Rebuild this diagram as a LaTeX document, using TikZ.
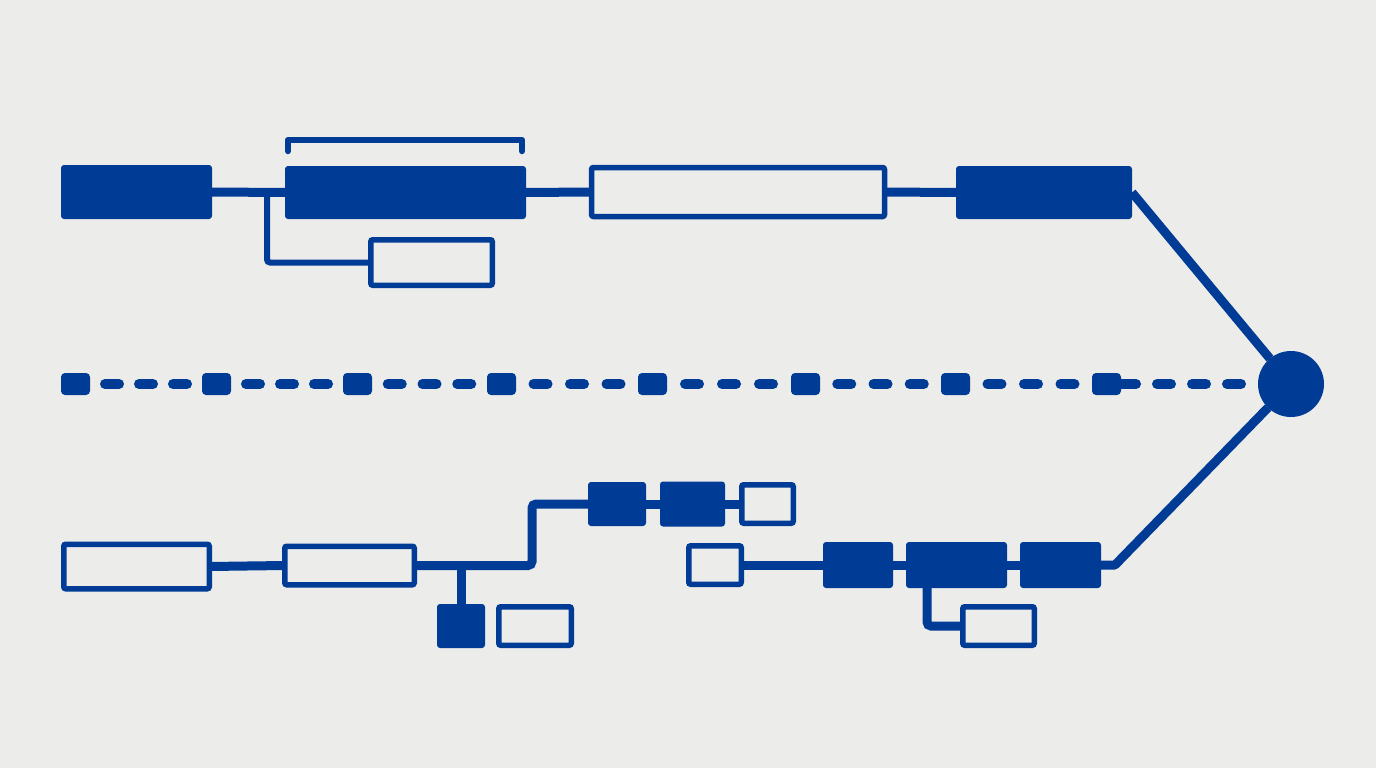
\documentclass[tikz,border=0pt]{standalone}
\usetikzlibrary{calc}
\definecolor{blu}{RGB}{0,60,150}
\definecolor{bg}{RGB}{236,236,234}
\begin{document}
\begin{tikzpicture}[x=1pt,y=-1pt,
  fb/.style={fill=blu, rounded corners=3pt, inner sep=0pt, outer sep=0pt},
  ob/.style={draw=blu, line width=5.5pt, rounded corners=2pt, inner sep=0pt, outer sep=0pt},
  sq/.style={fill=blu, rounded corners=4pt, inner sep=0pt, outer sep=0pt, minimum width=29pt, minimum height=22pt},
  hubst/.style={circle, fill=blu, inner sep=0pt, outer sep=0pt, minimum size=66pt},
  conn/.style={draw=blu, line width=9pt},
  thin/.style={draw=blu, line width=6pt},
  dsh/.style={draw=blu, line width=10pt, line cap=round, dash pattern=on 14pt off #1pt, dash phase=19pt}
]
\fill[bg] (0,0) rectangle (1376,768);
\useasboundingbox (0,0) rectangle (1376,768);

% ---------- top row ----------
\node[fb, minimum width=151pt, minimum height=54pt] (A) at (136.5,192) {};
\node[fb, minimum width=241pt, minimum height=53pt] (B) at (405.5,192.5) {};
\node[ob, minimum width=121.5pt, minimum height=45.5pt] (C) at (431.5,262.5) {};
\node[ob, minimum width=293pt, minimum height=49pt] (D) at (738,192) {};
\node[fb, minimum width=176pt, minimum height=53pt] (E) at (1044,192.5) {};
\node[hubst] (hub) at (1291,384) {};

\draw[blu, line width=6.5pt, line cap=round, line join=round] (288,151) -- (288,140) -- (522,140) -- (522,151);

\draw[conn] (A.east) -- (B.west);
\coordinate (j1) at (267,192.5);
\draw[thin, rounded corners=3pt] (j1) |- (C.west);
\draw[conn] (B.east) -- (D.west);
\draw[conn] (D.east) -- (E.west);
\draw[conn] (E.east) -- (hub);

% ---------- dashed middle row ----------
\node[sq] (s1) at (75.5,384) {};
\node[sq] (s2) at (216.5,384) {};
\node[sq] (s3) at (357.5,384) {};
\node[sq] (s4) at (501.5,384) {};
\node[sq] (s5) at (652.5,384) {};
\node[sq] (s6) at (805.5,384) {};
\node[sq] (s7) at (955.5,384) {};
\node[sq] (s8) at (1106.5,384) {};
\draw[dsh=20] (s1.east) -- (s2.west);
\draw[dsh=20] (s2.east) -- (s3.west);
\draw[dsh=20.75] (s3.east) -- (s4.west);
\draw[dsh=22.5] (s4.east) -- (s5.west);
\draw[dsh=23] (s5.east) -- (s6.west);
\draw[dsh=22.25] (s6.east) -- (s7.west);
\draw[dsh=22.5] (s7.east) -- (s8.west);
\draw[draw=blu, line width=10pt, line cap=round,
  dash pattern=on 15pt off 21pt on 14pt off 21pt on 14pt off 21pt on 14pt off 60pt]
  (s8.east) -- (hub);

% ---------- bottom row ----------
\node[ob, minimum width=145.5pt, minimum height=44.5pt] (F) at (136.5,566.5) {};
\node[ob, minimum width=129.5pt, minimum height=38.5pt] (G) at (349.5,565.5) {};
\node[fb, minimum width=48pt, minimum height=44pt] (I) at (461,626) {};
\node[ob, minimum width=72.5pt, minimum height=38.5pt] (J) at (535,626) {};
\node[fb, minimum width=58pt, minimum height=44pt] (H) at (617,504) {};
\node[fb, minimum width=65pt, minimum height=45pt] (H2) at (692.5,504) {};
\node[ob, minimum width=51.5pt, minimum height=38.5pt] (H3) at (767.5,504) {};
\node[ob, minimum width=52.5pt, minimum height=38.5pt] (K) at (715,565) {};
\node[fb, minimum width=70pt, minimum height=46pt] (L) at (858,565) {};
\node[fb, minimum width=101pt, minimum height=46pt] (M) at (956.5,565) {};
\node[fb, minimum width=81pt, minimum height=46pt] (N) at (1060.5,565) {};
\node[ob, minimum width=71.5pt, minimum height=38.5pt] (O) at (998.5,626) {};

\draw[conn] (F.east) -- (G.west);
\coordinate (bend) at (532,504);
\draw[conn, rounded corners=4pt] (G.east) -| (bend) -- (H.west);
\coordinate (j2) at (461,565.5);
\draw[conn] (j2) -- (I.north);
\draw[conn] (H.east) -- (H2.west);
\draw[conn] (H2.east) -- (H3.west);
\draw[conn] (K.east) -- (L.west);
\draw[conn] (L.east) -- (M.west);
\draw[conn] (M.east) -- (N.west);
\coordinate (j3) at (927,585);
\draw[conn, rounded corners=4pt] (j3) |- (O.west);
\coordinate (k) at (1115,565);
\draw[conn, line join=round] (N.east) -- (k) -- (hub);
\end{tikzpicture}
\end{document}
